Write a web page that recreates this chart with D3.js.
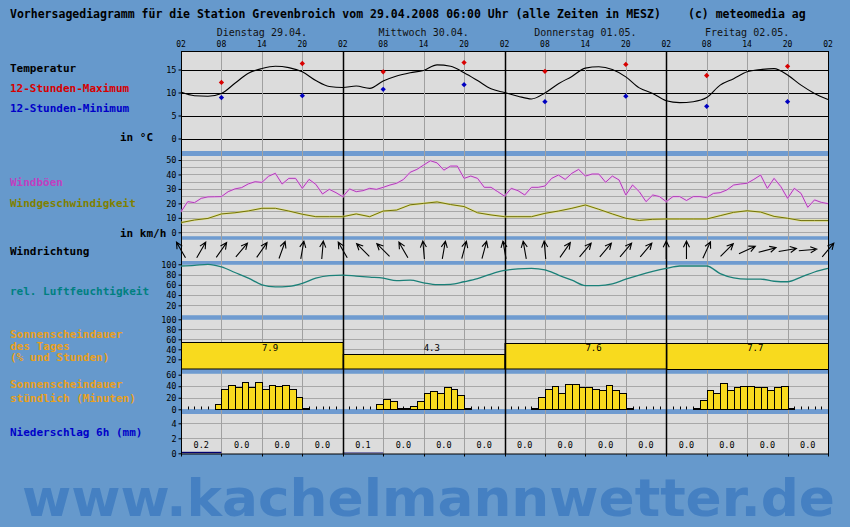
<!DOCTYPE html>
<html>
<head>
<meta charset="utf-8">
<style>
body { margin: 0; background: #6699cc; }
svg { display: block; }
text { font-family: "DejaVu Sans Mono", monospace; }
text.mark { font-family: "DejaVu Sans", Verdana, sans-serif; }
</style>
</head>
<body>
<script src="https://d3js.org/d3.v7.min.js"></script>
<script>
// ---- data ----
var dayLabels = ["Dienstag 29.04.", "Mittwoch 30.04.", "Donnerstag 01.05.", "Freitag 02.05."];
var hourLabels = ["02", "08", "14", "20"];

// temperature every 2 h, starting 02:00 Tue
var temp2h = [10.1, 9.3, 9.2, 9.8, 12.0, 14.2, 15.2, 15.7, 15.4, 14.5, 12.6, 11.3, 11.1, 11.4, 10.9, 12.5,
  13.6, 14.3, 14.8, 16.0, 15.7, 14.3, 12.6, 10.8, 10.0, 9.2, 8.6, 9.9, 11.9, 13.5, 15.3, 15.6, 15.0, 13.4,
  11.0, 9.8, 8.2, 7.8, 8.0, 8.9, 11.6, 13.0, 14.5, 15.0, 15.2, 13.8, 11.6, 9.8, 8.5];
var extremeHours = [6, 18, 30, 42, 54, 66, 78, 90];
var tMax = [12.2, 16.3, 14.5, 16.5, 14.6, 16.1, 13.7, 15.7];
var tMin = [8.9, 9.3, 10.7, 11.7, 8.0, 9.2, 7.0, 8.0];

// gusts hourly
var gusts = [14.2, 21.2, 20.5, 23.5, 24.5, 24.6, 24.7, 28.1, 30.0, 30.9, 33.5, 35.0, 34.5, 38.8, 40.8, 33.4,
  37.3, 37.3, 30.4, 36.6, 33.2, 26.5, 29.7, 27.4, 24.6, 30.0, 28.1, 28.8, 30.4, 29.7, 31.1, 32.7, 33.9, 36.5,
  41.5, 43.5, 46.5, 49.5, 48.0, 43.0, 45.8, 45.8, 37.3, 38.9, 37.3, 31.1, 31.1, 28.1, 25.0, 30.4, 28.8, 25.8,
  31.1, 31.1, 32.0, 37.3, 39.6, 36.6, 40.8, 43.5, 38.9, 40.3, 40.3, 34.6, 38.9, 36.2, 25.8, 32.7, 28.1, 21.2,
  25.8, 24.7, 21.2, 24.7, 24.7, 22.0, 24.7, 24.7, 24.0, 26.9, 27.4, 29.3, 32.7, 33.4, 33.9, 36.6, 39.6, 30.4,
  37.3, 31.6, 23.5, 30.4, 26.9, 17.3, 22.4, 20.7, 19.8];
// mean wind every 2 h
var wind2h = [6.7, 8.5, 9.6, 12.7, 13.5, 14.8, 16.6, 16.6, 14.7, 12.5, 10.8, 10.8, 10.8, 12.7, 10.8, 14.7,
  15.4, 19.0, 20.0, 21.0, 19.2, 17.8, 13.5, 12.0, 10.8, 10.8, 10.8, 13.1, 14.7, 16.6, 18.9, 15.9, 12.7, 9.7,
  8.2, 9.0, 9.2, 9.2, 9.2, 9.2, 11.5, 13.8, 14.9, 14.0, 11.0, 9.7, 8.1, 8.1, 8.1];
// wind direction (deg, from) every 3 h
var windDir3h = [150, 210, 215, 220, 215, 200, 190, 185, 150, 135, 135, 150, 175, 190, 195, 195,
  170, 170, 175, 215, 220, 220, 220, 220, 180, 180, 205, 225, 245, 255, 260, 265, 220];
// relative humidity every 2 h
var humid2h = [96.7, 98, 100, 95, 84, 73, 60, 56, 57, 63, 73, 78, 79, 77, 75, 73, 68, 69, 64, 60.5, 61, 66,
  72, 81, 88, 91, 92, 89, 79, 69, 58.5, 58.5, 62, 71, 79, 86, 92, 96.7, 96.7, 96.7, 82, 73.5, 71, 71, 67, 66,
  75, 85, 92];
// sunshine per day
var sunDayPct = [54, 30, 52, 53];
var sunDayHours = ["7.9", "4.3", "7.6", "7.7"];
// sunshine per hour (minutes), first hour of each day's run
var sunStart = [5, 29, 52, 76];
var sunMinutes = [
  [10, 35, 42, 39, 48, 39, 47, 35, 42, 40, 42, 35, 21, 2],
  [10, 17, 14, 3, 2, 6, 14, 29, 32, 28, 39, 36, 24, 3],
  [2, 21, 35, 40, 28, 44, 44, 39, 39, 35, 33, 42, 33, 29, 2],
  [3, 16, 33, 28, 45, 33, 38, 40, 40, 38, 38, 33, 39, 40, 3]
];
// precipitation per 6 h
var precip6h = [0.2, 0, 0, 0, 0.1, 0, 0, 0, 0, 0, 0, 0, 0, 0, 0, 0];

// ---- layout ----
var W = 850, H = 527;
var svg = d3.select("body").append("svg").attr("width", W).attr("height", H);
svg.append("rect").attr("width", W).attr("height", H).attr("fill", "#6699cc");

var x = d3.scaleLinear().domain([0, 96]).range([181, 828]);
var yT = d3.scaleLinear().domain([0, 15]).range([138.5, 69.5]);
var yW = d3.scaleLinear().domain([0, 50]).range([232.3, 160]);
var yH = d3.scaleLinear().domain([0, 100]).range([315.6, 264.3]);
var ySD = d3.scaleLinear().domain([0, 100]).range([369.3, 319.3]);
var ySH = d3.scaleLinear().domain([0, 60]).range([409.3, 374.7]);
var yP = d3.scaleLinear().domain([0, 4]).range([453.3, 423.3]);

var panels = [[52, 151], [156, 236.5], [239.5, 261], [264.5, 315.5], [319.5, 369.3], [373.5, 409.3], [414, 454]];
var bands = [[151, 156], [236.5, 239.5], [261, 264.5], [315.5, 319.5], [369.3, 373.5], [409.3, 414]];

var x0 = x(0), x1 = x(96);
var g = svg.append("g");
g.selectAll(".panel").data(panels).enter().append("rect")
  .attr("x", x0).attr("y", d => d[0]).attr("width", x1 - x0).attr("height", d => d[1] - d[0])
  .attr("fill", "#dcdcdc");

// horizontal grid
function hgrid(scale, vals, color) {
  g.selectAll(null).data(vals).enter().append("line")
    .attr("x1", x0).attr("x2", x1)
    .attr("y1", d => Math.round(scale(d)) + 0.5).attr("y2", d => Math.round(scale(d)) + 0.5)
    .attr("stroke", color).attr("stroke-width", 1);
}
hgrid(yT, [0, 5, 10, 15], "#000");
hgrid(yW, d3.range(0, 51, 5), "#a8a8a8");
hgrid(yH, [20, 40, 60, 80], "#a8a8a8");
hgrid(ySD, [20, 40, 60, 80], "#a8a8a8");
hgrid(ySH, [20, 40], "#a8a8a8");
hgrid(yP, [2, 4], "#a8a8a8");

g.selectAll(".band").data(bands).enter().append("rect")
  .attr("x", x0).attr("y", d => d[0]).attr("width", x1 - x0).attr("height", d => d[1] - d[0])
  .attr("fill", "#6f9bd0");

// vertical grid every 6 h
var ticks6 = d3.range(0, 97, 6);
g.selectAll(".vg").data(ticks6.filter(h => h % 24 != 0)).enter().append("line")
  .attr("x1", d => Math.round(x(d)) + 0.5).attr("x2", d => Math.round(x(d)) + 0.5)
  .attr("y1", 52).attr("y2", 454).attr("stroke", "#a0a0a0");

// sunshine daily bars
svg.selectAll(".sd").data(sunDayPct).enter().append("rect")
  .attr("x", (d, i) => x(i * 24) + 0.5).attr("width", x(24) - x(0))
  .attr("y", d => Math.round(ySD(d)) + 0.5).attr("height", d => ySD(0) - ySD(d) - 0.5)
  .attr("fill", "#f8da1e").attr("stroke", "#000");
svg.selectAll(".sdt").data(sunDayHours).enter().append("text")
  .attr("x", (d, i) => x(i * 24 + 12)).attr("y", 351)
  .attr("font-size", 9).attr("fill", "#000").text(d => d);

// hourly ticks on sunshine base
svg.selectAll(".ht").data(d3.range(1, 96)).enter().append("line")
  .attr("x1", d => Math.round(x(d)) + 0.5).attr("x2", d => Math.round(x(d)) + 0.5)
  .attr("y1", 406.5).attr("y2", 409.5).attr("stroke", "#000");

// sunshine hourly bars
sunMinutes.forEach(function(arr, k) {
  svg.selectAll(null).data(arr).enter().append("rect")
    .attr("x", (d, i) => Math.round(x(sunStart[k] + i)) + 0.5)
    .attr("width", (d, i) => Math.round(x(sunStart[k] + i + 1)) - Math.round(x(sunStart[k] + i)))
    .attr("y", d => Math.round(ySH(d)) + 0.5)
    .attr("height", d => Math.max(0.5, Math.round(ySH(0)) - Math.round(ySH(d))))
    .attr("fill", "#f8da1e").attr("stroke", "#000");
});

// precipitation
svg.selectAll(".pb").data(precip6h).enter().append("rect")
  .attr("x", (d, i) => x(i * 6)).attr("width", x(6) - x(0))
  .attr("y", d => yP(d)).attr("height", d => yP(0) - yP(d))
  .attr("fill", "#000070");
svg.selectAll(".pt").data(precip6h).enter().append("text")
  .attr("x", (d, i) => x(i * 6 + 3)).attr("y", 448).attr("text-anchor", "middle")
  .attr("font-size", 8.5).attr("fill", "#000").text(d => d.toFixed(1));
svg.selectAll(".pk").data(ticks6).enter().append("line")
  .attr("x1", d => Math.round(x(d)) + 0.5).attr("x2", d => Math.round(x(d)) + 0.5)
  .attr("y1", 454).attr("y2", 456.5).attr("stroke", "#000");

// day lines
svg.selectAll(".dl").data([24, 48, 72]).enter().append("line")
  .attr("x1", d => Math.round(x(d)) + 0.5).attr("x2", d => Math.round(x(d)) + 0.5)
  .attr("y1", 52).attr("y2", 454).attr("stroke", "#000").attr("stroke-width", 1.5);

// frame
svg.append("rect").attr("x", x0 + 0.5).attr("y", 51.5).attr("width", x1 - x0).attr("height", 402.5)
  .attr("fill", "none").attr("stroke", "#000");

// temperature line
svg.append("path").datum(temp2h)
  .attr("d", d3.line().x((d, i) => x(i * 2)).y(d => yT(d)).curve(d3.curveMonotoneX))
  .attr("fill", "none").attr("stroke", "#000").attr("stroke-width", 1.1);
var diamond = d3.symbol().type(d3.symbolSquare).size(14);
svg.selectAll(".mx").data(tMax).enter().append("path")
  .attr("d", diamond).attr("transform", (d, i) => "translate(" + x(extremeHours[i]) + "," + yT(d) + ") rotate(45)")
  .attr("fill", "#d80000");
svg.selectAll(".mn").data(tMin).enter().append("path")
  .attr("d", diamond).attr("transform", (d, i) => "translate(" + x(extremeHours[i]) + "," + yT(d) + ") rotate(45)")
  .attr("fill", "#0000c0");

// wind
svg.append("path").datum(gusts)
  .attr("d", d3.line().x((d, i) => x(i)).y(d => yW(d)))
  .attr("fill", "none").attr("stroke", "#f0b0f0").attr("stroke-width", 2.2).attr("opacity", 0.6);
svg.append("path").datum(gusts)
  .attr("d", d3.line().x((d, i) => x(i)).y(d => yW(d)))
  .attr("fill", "none").attr("stroke", "#b040b8").attr("stroke-width", 1);
svg.append("path").datum(wind2h)
  .attr("d", d3.line().x((d, i) => x(i * 2)).y(d => yW(d)))
  .attr("fill", "none").attr("stroke", "#e8e860").attr("stroke-width", 2.2).attr("opacity", 0.6);
svg.append("path").datum(wind2h)
  .attr("d", d3.line().x((d, i) => x(i * 2)).y(d => yW(d)))
  .attr("fill", "none").attr("stroke", "#70700a").attr("stroke-width", 1);

// wind direction arrows
var arrowY = 250, L = 18;
svg.selectAll(".wd").data(windDir3h).enter().append("path")
  .attr("d", function(d, i) {
    var a = (d + 180) * Math.PI / 180;
    var dx = Math.sin(a), dy = -Math.cos(a);
    var cx = x(i * 3), cy = arrowY;
    var tx = cx + dx * L / 2, ty = cy + dy * L / 2;
    var bx = cx - dx * L / 2, by = cy - dy * L / 2;
    var h = 7, s = 0.45;
    var l1x = tx - h * (dx * Math.cos(s) - dy * Math.sin(s)), l1y = ty - h * (dy * Math.cos(s) + dx * Math.sin(s));
    var l2x = tx - h * (dx * Math.cos(-s) - dy * Math.sin(-s)), l2y = ty - h * (dy * Math.cos(-s) + dx * Math.sin(-s));
    return "M" + bx + "," + by + "L" + tx + "," + ty + "M" + l1x + "," + l1y + "L" + tx + "," + ty + "L" + l2x + "," + l2y;
  })
  .attr("fill", "none").attr("stroke", "#000").attr("stroke-width", 1.1);

// humidity
svg.append("path").datum(humid2h)
  .attr("d", d3.line().x((d, i) => x(i * 2)).y(d => yH(d)).curve(d3.curveMonotoneX))
  .attr("fill", "none").attr("stroke", "#1a8078").attr("stroke-width", 1.3);

// left axes
function leftAxis(scale, vals) {
  var ax = svg.append("g").attr("transform", "translate(" + (x0 + 0.5) + ",0)")
    .call(d3.axisLeft(scale).tickValues(vals).tickSize(3).tickPadding(2).tickFormat(d3.format("d")));
  ax.select(".domain").remove();
  ax.selectAll("text").attr("font-size", 8.5).style("font-family", "DejaVu Sans Mono").attr("fill", "#000");
}
leftAxis(yT, [0, 5, 10, 15]);
leftAxis(yW, [0, 10, 20, 30, 40, 50]);
leftAxis(yH, [20, 40, 60, 80, 100]);
leftAxis(ySD, [20, 40, 60, 80, 100]);
leftAxis(ySH, [0, 20, 40, 60]);
leftAxis(yP, [0, 2, 4]);

// top labels
svg.selectAll(".hl").data(ticks6).enter().append("text")
  .attr("x", d => x(d)).attr("y", 47).attr("text-anchor", "middle")
  .attr("font-size", 8).attr("fill", "#000").text(d => hourLabels[(d / 6) % 4]);
svg.selectAll(".dlab").data(dayLabels).enter().append("text")
  .attr("x", (d, i) => x(i * 24 + 12)).attr("y", 36).attr("text-anchor", "middle")
  .attr("font-size", 10).attr("fill", "#111").text(d => d);

svg.append("text").attr("x", 10).attr("y", 17.5).attr("font-size", 11.5).attr("font-weight", "bold")
  .attr("fill", "#000").text("Vorhersagediagramm für die Station Grevenbroich vom 29.04.2008 06:00 Uhr (alle Zeiten in MESZ)");
svg.append("text").attr("x", 688).attr("y", 17.5).attr("font-size", 11.5).attr("font-weight", "bold")
  .attr("fill", "#000").text("(c) meteomedia ag");

// left legend labels
var labels = [
  ["Temperatur", 10, 72, "#000"],
  ["12-Stunden-Maximum", 10, 92, "#d80000"],
  ["12-Stunden-Minimum", 10, 112, "#0000c8"],
  ["in °C", 120, 141, "#000"],
  ["Windböen", 10, 186, "#c040c0"],
  ["Windgeschwindigkeit", 10, 207, "#808000"],
  ["in km/h", 120, 237, "#000"],
  ["Windrichtung", 10, 255, "#000"],
  ["rel. Luftfeuchtigkeit", 10, 295, "#008080"],
  ["Sonnenscheindauer", 10, 338, "#e8a020"],
  ["des Tages", 10, 349.5, "#e8a020"],
  ["(% und Stunden)", 10, 361, "#e8a020"],
  ["Sonnenscheindauer", 10, 388, "#e8a020"],
  ["stündlich (Minuten)", 10, 402, "#e8a020"],
  ["Niederschlag 6h (mm)", 10, 436, "#0000c8"]
];
svg.selectAll(".lab").data(labels).enter().append("text")
  .attr("x", d => d[1]).attr("y", d => d[2]).attr("fill", d => d[3])
  .attr("font-size", 11).attr("font-weight", "bold").text(d => d[0]);

// watermark
svg.append("text").attr("class", "mark").attr("x", 22).attr("y", 516)
  .attr("font-weight", "bold").attr("font-size", 52)
  .attr("textLength", 813).attr("lengthAdjust", "spacingAndGlyphs")
  .attr("fill", "#4580c2").text("www.kachelmannwetter.de");
</script>
</body>
</html>
